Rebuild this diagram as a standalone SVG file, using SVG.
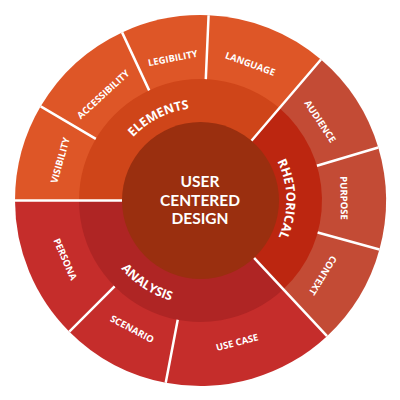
<svg xmlns="http://www.w3.org/2000/svg" width="400" height="400" viewBox="0 0 400 400">
<style>
.eo{fill:#DE5627}.ei{fill:#CF4519}
.ro{fill:#C34B35}.ri{fill:#BC2610}
.ao{fill:#C52D2B}.ai{fill:#AF2524}
.core{fill:#9A2F0F}
.div{stroke:#fff;stroke-width:2.5;fill:none;stroke-linecap:butt}
text{font-family:"Open Sans","Noto Sans","DejaVu Sans",sans-serif;font-weight:bold;fill:#fff;text-anchor:middle}
.sm{font-size:9.5px}
.md{font-size:12.5px}
.lg{font-family:Lato,"Open Sans",sans-serif;font-size:15.5px}
</style>
<defs>
<path id="arcE" d="M110.02,219.73 A92.5,92.5 0 0 1 269.24,138.61"/>
<path id="arcR" d="M221.31,117.05 A86,86 0 0 1 224.21,283.17"/>
<path id="arcA" d="M101.12,168.21 A104.5,104.5 0 0 0 270.42,278.16"/>
</defs>
<rect width="400" height="400" fill="#fff"/>
<g id="outer-ring">
<g id="visibility"><path class="eo" d="M200.5,200.5 L15,200.5 A185.5,185.5 0 0 1 40.67,106.35 Z"/><text class="sm" transform="translate(200.5,200.5) rotate(-74)" x="0" y="-142.6">VISIBILITY</text></g>
<g id="accessibility"><path class="eo" d="M200.5,200.5 L40.67,106.35 A185.5,185.5 0 0 1 122.10,32.38 Z"/><text class="sm" transform="translate(200.5,200.5) rotate(-42.5)" x="0" y="-140.6">ACCESSIBILITY</text></g>
<g id="legibility"><path class="eo" d="M200.5,200.5 L122.10,32.38 A185.5,185.5 0 0 1 208.59,15.18 Z"/><text class="sm" transform="translate(200.5,200.5) rotate(-11)" x="0" y="-141.6">LEGIBILITY</text></g>
<g id="language"><path class="eo" d="M200.5,200.5 L208.59,15.18 A185.5,185.5 0 0 1 320.97,59.44 Z"/><text class="sm" transform="translate(200.5,200.5) rotate(20)" x="0" y="-142.1">LANGUAGE</text></g>
<g id="audience"><path class="ro" d="M200.5,200.5 L320.97,59.44 A185.5,185.5 0 0 1 378.27,147.50 Z"/><text class="sm" transform="translate(200.5,200.5) rotate(56.5)" x="0" y="-140.1">AUDIENCE</text></g>
<g id="purpose"><path class="ro" d="M200.5,200.5 L378.27,147.50 A185.5,185.5 0 0 1 379.43,249.45 Z"/><text class="sm" transform="translate(200.5,200.5) rotate(89)" x="0" y="-140.1">PURPOSE</text></g>
<g id="context"><path class="ro" d="M200.5,200.5 L379.43,249.45 A185.5,185.5 0 0 1 327.01,336.17 Z"/><text class="sm" transform="translate(200.5,200.5) rotate(121.5)" x="0" y="-140.1">CONTEXT</text></g>
<g id="use-case"><path class="ao" d="M200.5,200.5 L327.01,336.17 A185.5,185.5 0 0 1 165.74,382.71 Z"/><text class="sm" transform="translate(200.5,200.5) rotate(-14.5)" x="0" y="149.9">USE CASE</text></g>
<g id="scenario"><path class="ao" d="M200.5,200.5 L165.74,382.71 A185.5,185.5 0 0 1 69.33,331.67 Z"/><text class="sm" transform="translate(200.5,200.5) rotate(28)" x="0" y="148.9">SCENARIO</text></g>
<g id="persona"><path class="ao" d="M200.5,200.5 L69.33,331.67 A185.5,185.5 0 0 1 15,200.5 Z"/><text class="sm" transform="translate(200.5,200.5) rotate(66.5)" x="0" y="150.9">PERSONA</text></g>
</g>
<g id="inner-ring">
<g id="elements"><path class="ei" d="M200.5,200.5 L79,200.5 A121.5,121.5 0 0 1 279.41,108.11 Z"/></g>
<g id="rhetorical"><path class="ri" d="M200.5,200.5 L279.41,108.11 A121.5,121.5 0 0 1 283.36,289.36 Z"/></g>
<g id="analysis"><path class="ai" d="M200.5,200.5 L283.36,289.36 A121.5,121.5 0 0 1 79,200.5 Z"/></g>
</g>
<g id="connectors">
<path class="div" d="M122,200.5 L15,200.5 M251.48,140.81 L320.97,59.44 M254.04,257.91 L327.01,336.17"/>
<path class="div" d="M95.81,138.83 L40.67,106.35 M149.15,90.38 L122.10,32.38 M205.80,79.12 L208.59,15.18 M316.94,165.79 L378.27,147.50 M317.69,232.56 L379.43,249.45 M177.73,319.85 L165.74,382.71 M114.59,286.41 L69.33,331.67"/>
</g>
<g id="inner-labels">
<text class="md"><textPath href="#arcE" startOffset="50%">ELEMENTS</textPath></text>
<text class="md"><textPath href="#arcR" startOffset="50%">RHETORICAL</textPath></text>
<text class="md"><textPath href="#arcA" startOffset="50%">ANALYSIS</textPath></text>
</g>
<g id="center">
<circle class="core" cx="200.5" cy="200.5" r="78.5"/>
<text class="lg" x="200" y="187">USER</text>
<text class="lg" x="200" y="205.5">CENTERED</text>
<text class="lg" x="200" y="224">DESIGN</text>
</g>
</svg>
